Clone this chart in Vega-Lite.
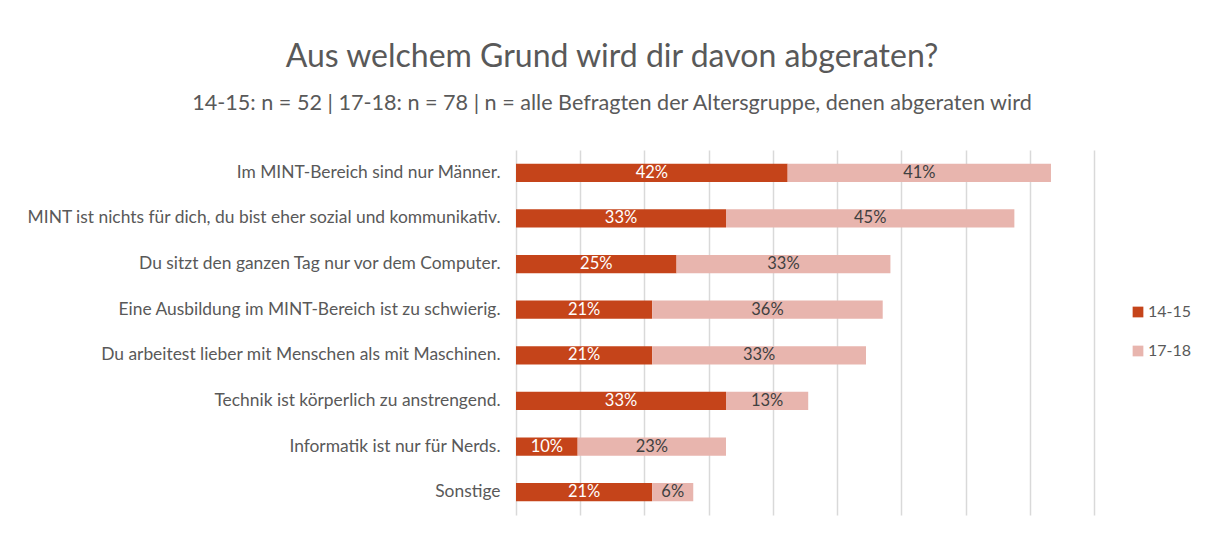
{
  "$schema": "https://vega.github.io/schema/vega-lite/v6.json",
  "width": 578,
  "height": 365,
  "autosize": "none",
  "padding": {"left": 516, "top": 150, "right": 120, "bottom": 20},
  "background": "white",
  "config": {
    "font": "Lato",
    "view": {"stroke": null},
    "title": {"font": "Lato", "subtitleFont": "Lato"}
  },
  "title": {
    "text": "Aus welchem Grund wird dir davon abgeraten?",
    "subtitle": "14-15: n = 52 | 17-18: n = 78 | n = alle Befragten der Altersgruppe, denen abgeraten wird",
    "anchor": "middle",
    "frame": "group",
    "dx": -193,
    "offset": 34,
    "fontSize": 32,
    "fontWeight": "normal",
    "color": "#595959",
    "subtitleFontSize": 21.6,
    "subtitleColor": "#595959",
    "subtitlePadding": 19
  },
  "data": {
    "values": [
      {"reason": "Im MINT-Bereich sind nur Männer.", "age": "14-15", "share": 0.423},
      {"reason": "Im MINT-Bereich sind nur Männer.", "age": "17-18", "share": 0.410},
      {"reason": "MINT ist nichts für dich, du bist eher sozial und kommunikativ.", "age": "14-15", "share": 0.327},
      {"reason": "MINT ist nichts für dich, du bist eher sozial und kommunikativ.", "age": "17-18", "share": 0.449},
      {"reason": "Du sitzt den ganzen Tag nur vor dem Computer.", "age": "14-15", "share": 0.250},
      {"reason": "Du sitzt den ganzen Tag nur vor dem Computer.", "age": "17-18", "share": 0.333},
      {"reason": "Eine Ausbildung im MINT-Bereich ist zu schwierig.", "age": "14-15", "share": 0.212},
      {"reason": "Eine Ausbildung im MINT-Bereich ist zu schwierig.", "age": "17-18", "share": 0.359},
      {"reason": "Du arbeitest lieber mit Menschen als mit Maschinen.", "age": "14-15", "share": 0.212},
      {"reason": "Du arbeitest lieber mit Menschen als mit Maschinen.", "age": "17-18", "share": 0.333},
      {"reason": "Technik ist körperlich zu anstrengend.", "age": "14-15", "share": 0.327},
      {"reason": "Technik ist körperlich zu anstrengend.", "age": "17-18", "share": 0.128},
      {"reason": "Informatik ist nur für Nerds.", "age": "14-15", "share": 0.096},
      {"reason": "Informatik ist nur für Nerds.", "age": "17-18", "share": 0.231},
      {"reason": "Sonstige", "age": "14-15", "share": 0.212},
      {"reason": "Sonstige", "age": "17-18", "share": 0.064}
    ]
  },
  "encoding": {
    "y": {
      "field": "reason",
      "type": "nominal",
      "sort": null,
      "title": null,
      "scale": {"paddingInner": 0.6, "paddingOuter": 0.3},
      "axis": {
        "domain": false,
        "ticks": false,
        "labelPadding": 16,
        "labelFontSize": 17.4,
        "labelColor": "#595959",
        "labelFont": "Lato",
        "labelLimit": 600
      }
    }
  },
  "layer": [
    {
      "mark": {"type": "bar"},
      "encoding": {
        "x": {
          "field": "share",
          "type": "quantitative",
          "stack": "zero",
          "title": null,
          "scale": {"domain": [0, 0.9], "nice": false},
          "axis": {
            "values": [0, 0.1, 0.2, 0.3, 0.4, 0.5, 0.6, 0.7, 0.8, 0.9],
            "labels": false,
            "ticks": false,
            "domain": false,
            "grid": true,
            "gridColor": "#d9d9d9",
            "gridWidth": 1.5
          }
        },
        "order": {"field": "age", "type": "nominal", "sort": "ascending"},
        "color": {
          "field": "age",
          "type": "nominal",
          "scale": {"domain": ["14-15", "17-18"], "range": ["#c5441a", "#e8b5ae"]},
          "legend": {
            "title": null,
            "orient": "none",
            "legendX": 614,
            "legendY": 154,
            "symbolType": "square",
            "symbolSize": 115,
            "labelFontSize": 16,
            "labelColor": "#595959",
            "labelFont": "Lato",
            "rowPadding": 23,
            "labelOffset": 2
          }
        }
      }
    },
    {
      "mark": {"type": "text", "fontSize": 16.5, "font": "Lato", "baseline": "middle", "align": "center"},
      "encoding": {
        "x": {"field": "share", "type": "quantitative", "stack": "zero", "bandPosition": 0.5},
        "order": {"field": "age", "type": "nominal", "sort": "ascending"},
        "detail": {"field": "age", "type": "nominal"},
        "text": {"field": "share", "type": "quantitative", "format": ".0%"},
        "color": {
          "condition": {"test": "datum.age === '14-15'", "value": "#ffffff"},
          "value": "#404040"
        }
      }
    }
  ]
}
